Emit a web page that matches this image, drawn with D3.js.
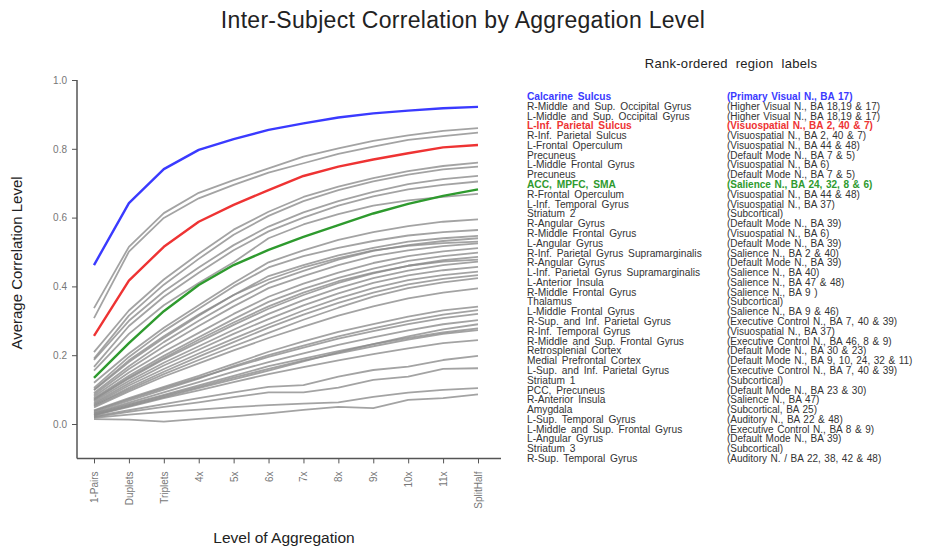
<!DOCTYPE html>
<html>
<head>
<meta charset="utf-8">
<script src="https://cdn.jsdelivr.net/npm/d3@7"></script>
<style>
  html, body { margin: 0; padding: 0; background: #fff; }
  svg { display: block; font-family: "Liberation Sans", Arial, sans-serif; }
</style>
</head>
<body>
<div id="chart"></div>
<script>
// levels on the x axis
const levels = ['1-Pairs','Duplets','Triplets','4x','5x','6x','7x','8x','9x','10x','11x','SplitHalf'];

// rank-ordered region labels (left column) and networks (right column)
const regions = [
  'Calcarine Sulcus','R-Middle and Sup. Occipital Gyrus','L-Middle and Sup. Occipital Gyrus','L-Inf. Parietal Sulcus',
  'R-Inf. Parietal Sulcus','L-Frontal Operculum','Precuneus','L-Middle Frontal Gyrus','Precuneus','ACC, MPFC, SMA',
  'R-Frontal Operculum','L-Inf. Temporal Gyrus','Striatum 2','R-Angular Gyrus','R-Middle Frontal Gyrus','L-Angular Gyrus',
  'R-Inf. Parietal Gyrus Supramarginalis','R-Angular Gyrus','L-Inf. Parietal Gyrus Supramarginalis','L-Anterior Insula',
  'R-Middle Frontal Gyrus','Thalamus','L-Middle Frontal Gyrus','R-Sup. and Inf. Parietal Gyrus','R-Inf. Temporal Gyrus',
  'R-Middle and Sup. Frontal Gyrus','Retrosplenial Cortex','Medial Prefrontal Cortex','L-Sup. and Inf. Parietal Gyrus',
  'Striatum 1','PCC, Precuneus','R-Anterior Insula','Amygdala','L-Sup. Temporal Gyrus','L-Middle and Sup. Frontal Gyrus',
  'L-Angular Gyrus','Striatum 3','R-Sup. Temporal Gyrus'
];
const networks = [
  '(Primary Visual N., BA 17)','(Higher Visual N., BA 18,19 & 17)','(Higher Visual N., BA 18,19 & 17)','(Visuospatial N., BA 2, 40 & 7)',
  '(Visuospatial N., BA 2, 40 & 7)','(Visuospatial N., BA 44 & 48)','(Default Mode N., BA 7 & 5)','(Visuospatial N., BA 6)',
  '(Default Mode N., BA 7 & 5)','(Salience N., BA 24, 32, 8 & 6)','(Visuospatial N., BA 44 & 48)','(Visuospatial N., BA 37)',
  '(Subcortical)','(Default Mode N., BA 39)','(Visuospatial N., BA 6)','(Default Mode N., BA 39)','(Salience N., BA 2 & 40)',
  '(Default Mode N., BA 39)','(Salience N., BA 40)','(Salience N., BA 47 & 48)','(Salience N., BA 9 )','(Subcortical)',
  '(Salience N., BA 9 & 46)','(Executive Control N., BA 7, 40 & 39)','(Visuospatial N., BA 37)','(Executive Control N., BA 46, 8 & 9)',
  '(Default Mode N., BA 30 & 23)','(Default Mode N., BA 9, 10, 24, 32 & 11)','(Executive Control N., BA 7, 40 & 39)','(Subcortical)',
  '(Default Mode N., BA 23 & 30)','(Salience N., BA 47)','(Subcortical, BA 25)','(Auditory N., BA 22 & 48)',
  '(Executive Control N., BA 8 & 9)','(Default Mode N., BA 39)','(Subcortical)','(Auditory N. / BA 22, 38, 42 & 48)'
];

// average correlation per region (same order as labels), one value per level
const correlations = [
  [0.462,0.642,0.741,0.797,0.828,0.855,0.874,0.891,0.903,0.911,0.918,0.922],
  [0.337,0.515,0.613,0.672,0.709,0.743,0.777,0.801,0.823,0.839,0.852,0.860],
  [0.308,0.501,0.599,0.656,0.695,0.731,0.758,0.785,0.806,0.826,0.837,0.847],
  [0.256,0.417,0.515,0.588,0.637,0.680,0.721,0.748,0.769,0.787,0.804,0.811],
  [0.209,0.330,0.420,0.495,0.565,0.617,0.660,0.690,0.715,0.735,0.750,0.760],
  [0.190,0.315,0.405,0.480,0.550,0.605,0.648,0.680,0.705,0.725,0.740,0.748],
  [0.186,0.300,0.385,0.455,0.520,0.574,0.615,0.648,0.675,0.697,0.712,0.721],
  [0.166,0.285,0.370,0.440,0.505,0.560,0.600,0.635,0.662,0.682,0.695,0.705],
  [0.155,0.262,0.345,0.410,0.470,0.540,0.580,0.610,0.635,0.650,0.660,0.669],
  [0.134,0.235,0.328,0.404,0.462,0.506,0.544,0.578,0.612,0.640,0.663,0.682],
  [0.120,0.205,0.280,0.345,0.410,0.470,0.505,0.535,0.558,0.575,0.588,0.595],
  [0.105,0.195,0.270,0.335,0.400,0.455,0.488,0.512,0.532,0.548,0.558,0.564],
  [0.098,0.180,0.250,0.315,0.375,0.430,0.462,0.490,0.512,0.530,0.540,0.547],
  [0.090,0.168,0.238,0.300,0.358,0.410,0.445,0.478,0.503,0.520,0.532,0.540],
  [0.100,0.185,0.255,0.318,0.375,0.420,0.455,0.482,0.505,0.518,0.526,0.530],
  [0.085,0.160,0.225,0.285,0.342,0.395,0.430,0.462,0.488,0.505,0.517,0.525],
  [0.080,0.150,0.210,0.265,0.320,0.370,0.408,0.440,0.468,0.488,0.502,0.511],
  [0.075,0.140,0.198,0.252,0.305,0.355,0.393,0.425,0.452,0.474,0.488,0.498],
  [0.070,0.132,0.188,0.238,0.288,0.335,0.375,0.410,0.438,0.460,0.476,0.486],
  [0.072,0.135,0.192,0.245,0.295,0.342,0.382,0.415,0.440,0.460,0.472,0.478],
  [0.066,0.125,0.178,0.226,0.274,0.320,0.360,0.395,0.424,0.446,0.462,0.472],
  [0.062,0.118,0.170,0.216,0.262,0.305,0.345,0.380,0.410,0.432,0.447,0.457],
  [0.058,0.112,0.160,0.205,0.248,0.290,0.330,0.365,0.395,0.418,0.433,0.443],
  [0.055,0.105,0.152,0.196,0.238,0.280,0.318,0.352,0.382,0.406,0.422,0.433],
  [0.052,0.100,0.145,0.186,0.226,0.265,0.303,0.338,0.370,0.395,0.412,0.424],
  [0.048,0.095,0.138,0.176,0.214,0.250,0.283,0.315,0.342,0.365,0.382,0.394],
  [0.040,0.075,0.108,0.140,0.175,0.210,0.240,0.268,0.290,0.312,0.330,0.341],
  [0.035,0.068,0.100,0.132,0.168,0.200,0.228,0.255,0.278,0.300,0.318,0.331],
  [0.038,0.072,0.104,0.135,0.165,0.195,0.222,0.248,0.270,0.290,0.308,0.320],
  [0.032,0.062,0.092,0.122,0.152,0.180,0.205,0.230,0.252,0.272,0.290,0.302],
  [0.026,0.052,0.078,0.104,0.130,0.155,0.182,0.208,0.232,0.255,0.275,0.290],
  [0.030,0.058,0.085,0.112,0.140,0.168,0.190,0.212,0.232,0.250,0.266,0.278],
  [0.028,0.055,0.082,0.108,0.135,0.160,0.185,0.205,0.226,0.245,0.262,0.273],
  [0.025,0.050,0.075,0.098,0.122,0.145,0.165,0.185,0.203,0.220,0.235,0.244],
  [0.022,0.040,0.058,0.075,0.092,0.108,0.113,0.138,0.157,0.167,0.186,0.198],
  [0.020,0.035,0.050,0.063,0.078,0.092,0.092,0.106,0.128,0.138,0.160,0.162],
  [0.018,0.027,0.035,0.042,0.049,0.055,0.059,0.063,0.079,0.091,0.099,0.104],
  [0.014,0.013,0.007,0.015,0.022,0.031,0.041,0.050,0.046,0.070,0.075,0.086]
];

const yTicks = [0, 0.2, 0.4, 0.6, 0.8, 1.0];

// highlighted regions (index -> line / label colour)
const highlight = {0: '#3a3aff', 3: '#ee3333', 9: '#2e9a2e'};

const W = 926, H = 551;
const svg = d3.select('#chart').append('svg').attr('width', W).attr('height', H);

const x = d3.scalePoint().domain(levels).range([94, 478]);
const y = d3.scaleLinear().domain([0, 1]).range([424, 80]);
const axisY = y(-0.1);
const axisX = x(levels[0]) - 17;

// x axis (R style, detached L)
const xg = svg.append('g').attr('transform', `translate(0,${axisY})`)
  .call(d3.axisBottom(x).tickSize(5).tickSizeOuter(0));
xg.select('.domain').remove();
xg.selectAll('.tick line').attr('stroke', '#555');
xg.selectAll('.tick text')
  .attr('transform', 'rotate(-90)')
  .attr('text-anchor', 'end')
  .attr('x', -13).attr('y', 0).attr('dy', '0.35em')
  .attr('fill', '#777').attr('font-size', 10)
  .attr('font-family', '"Liberation Sans", Arial, sans-serif');
svg.append('line')
  .attr('x1', axisX).attr('x2', x(levels[levels.length - 1]) + 23)
  .attr('y1', axisY).attr('y2', axisY)
  .attr('stroke', '#555').attr('stroke-width', 1.5);

// y axis
const yg = svg.append('g').attr('transform', `translate(${axisX},0)`)
  .call(d3.axisLeft(y).tickValues(yTicks).tickFormat(d3.format('.1f')).tickSize(5).tickSizeOuter(0));
yg.select('.domain').remove();
yg.selectAll('.tick line').attr('stroke', '#555');
yg.selectAll('.tick text').attr('fill', '#777').attr('font-size', 10).attr('x', -10)
  .attr('font-family', '"Liberation Sans", Arial, sans-serif');
svg.append('line')
  .attr('x1', axisX).attr('x2', axisX)
  .attr('y1', y(1)).attr('y2', axisY)
  .attr('stroke', '#555').attr('stroke-width', 1.5);

// lines: gray first, highlighted on top
const line = d3.line().x((d, i) => x(levels[i])).y(d => y(d));
const order = d3.range(correlations.length).sort((a, b) => (a in highlight) - (b in highlight));
svg.append('g').selectAll('path').data(order).enter().append('path')
  .attr('d', i => line(correlations[i]))
  .attr('fill', 'none')
  .attr('stroke', i => highlight[i] || '#8c8c8c')
  .attr('stroke-opacity', i => (i in highlight) ? 1 : 0.8)
  .attr('stroke-width', i => (i in highlight) ? 2.4 : 1.8)
  .attr('stroke-linejoin', 'round');

// titles
svg.append('text').attr('x', 463).attr('y', 28).attr('text-anchor', 'middle')
  .attr('font-size', 23).attr('letter-spacing', 0.3).attr('fill', '#222')
  .text('Inter-Subject Correlation by Aggregation Level');
svg.append('text').attr('transform', 'translate(22,263) rotate(-90)').attr('text-anchor', 'middle')
  .attr('font-size', 15).attr('fill', '#222').text('Average Correlation Level');
svg.append('text').attr('x', 284).attr('y', 543).attr('text-anchor', 'middle')
  .attr('font-size', 15.5).attr('fill', '#222').text('Level of Aggregation');

// legend
svg.append('text').attr('x', 731).attr('y', 68).attr('text-anchor', 'middle')
  .attr('font-size', 13).attr('letter-spacing', 0.3).attr('word-spacing', 4).attr('fill', '#222')
  .text('Rank-ordered region labels');
const row = d3.scalePoint().domain(d3.range(regions.length)).range([100, 462]);
const leg = svg.append('g');
leg.selectAll('text.reg').data(regions).enter().append('text').attr('class', 'reg')
  .attr('x', 527).attr('y', (d, i) => row(i))
  .attr('font-size', 10.2).attr('word-spacing', 2)
  .attr('font-weight', (d, i) => (i in highlight) ? 'bold' : 'normal')
  .attr('fill', (d, i) => highlight[i] || '#333').text(d => d);
leg.selectAll('text.net').data(networks).enter().append('text').attr('class', 'net')
  .attr('x', 727).attr('y', (d, i) => row(i))
  .attr('font-size', 10).attr('word-spacing', 0.8)
  .attr('font-weight', (d, i) => (i in highlight) ? 'bold' : 'normal')
  .attr('fill', (d, i) => highlight[i] || '#333').text(d => d);
</script>
</body>
</html>
